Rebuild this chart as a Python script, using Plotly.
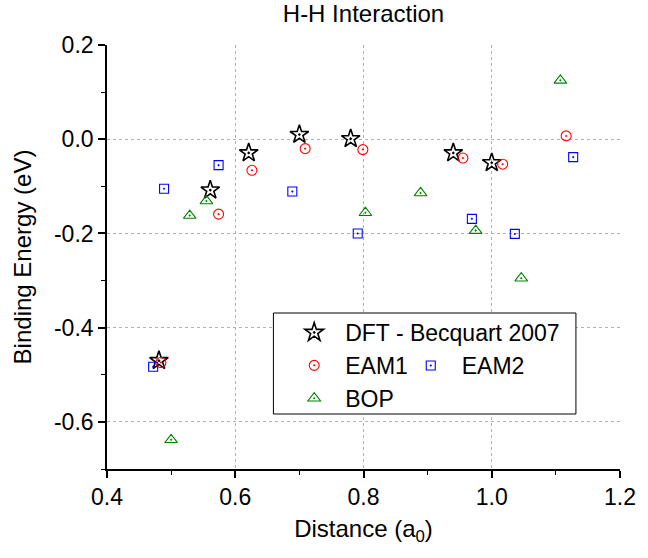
import plotly.graph_objects as go

# H-H pair binding energies vs. separation distance
dft_x = [0.481, 0.561, 0.621, 0.700, 0.780, 0.940, 1.000]
dft_y = [-0.470, -0.108, -0.029, 0.010, 0.001, -0.029, -0.050]

eam1_x = [0.484, 0.574, 0.626, 0.709, 0.799, 0.955, 1.017, 1.116]
eam1_y = [-0.474, -0.159, -0.066, -0.020, -0.022, -0.040, -0.053, 0.007]

eam2_x = [0.472, 0.489, 0.574, 0.689, 0.791, 0.969, 1.036, 1.127]
eam2_y = [-0.483, -0.105, -0.055, -0.111, -0.200, -0.169, -0.201, -0.038]

bop_x = [0.500, 0.529, 0.555, 0.803, 0.889, 0.975, 1.046, 1.107]
bop_y = [-0.638, -0.162, -0.131, -0.156, -0.114, -0.194, -0.295, 0.125]

x_ticks = [0.4, 0.6, 0.8, 1.0, 1.2]
x_tick_labels = ["0.4", "0.6", "0.8", "1.0", "1.2"]
y_ticks = [-0.6, -0.4, -0.2, 0.0, 0.2]
y_tick_labels = ["-0.6", "-0.4", "-0.2", "0.0", "0.2"]

FONT = "Liberation Sans, Arial, Helvetica, sans-serif"

fig = go.Figure()
fig.add_trace(go.Scatter(
    x=dft_x, y=dft_y, mode="markers", name="DFT - Becquart 2007",
    marker=dict(symbol="star-open-dot", size=14, color="black",
                line=dict(width=1.6, color="black")),
))
fig.add_trace(go.Scatter(
    x=eam1_x, y=eam1_y, mode="markers", name="EAM1",
    marker=dict(symbol="circle-open-dot", size=10, color="#ff0000",
                line=dict(width=1.1, color="#ff0000")),
))
fig.add_trace(go.Scatter(
    x=eam2_x, y=eam2_y, mode="markers", name="EAM2", legend="legend2",
    marker=dict(symbol="square-open-dot", size=9, color="#0000ff",
                line=dict(width=1.1, color="#0000ff")),
))
fig.add_trace(go.Scatter(
    x=bop_x, y=bop_y, mode="markers", name="BOP",
    marker=dict(symbol="triangle-up-open-dot", size=11, color="#008000",
                line=dict(width=1.1, color="#008000")),
))

axis_common = dict(
    showline=True, linecolor="black", linewidth=1.6,
    zeroline=False, color="black",
)

# legend frame (both legends sit inside it)
fig.add_shape(
    type="rect", xref="paper", yref="paper",
    x0=0.3244, x1=0.9141, y0=0.1297, y1=0.3679,
    line=dict(color="black", width=1), fillcolor="white", layer="above",
)

fig.update_layout(
    width=648, height=558,
    margin=dict(l=107, r=17, t=45, b=89),
    paper_bgcolor="white", plot_bgcolor="white",
    font=dict(family=FONT, size=23, color="black"),
    title=dict(text="H-H Interaction", x=0.5, xref="paper", xanchor="center",
               y=1, yref="container", yanchor="top", pad=dict(t=5),
               font=dict(size=24)),
    xaxis=dict(
        range=[0.4, 1.2], tickvals=x_ticks, ticktext=x_tick_labels,
        ticks="outside", ticklen=7, tickwidth=1.6, tickcolor="black",
        minor=dict(dtick=0.1, ticks="outside", ticklen=4, tickwidth=1.4,
                   tickcolor="black", showgrid=False),
        showgrid=True, gridcolor="#b0b0b0", griddash="dot", gridwidth=1,
        title=dict(text="Distance (a<sub>0</sub>)", standoff=11,
                   font=dict(size=24)),
        **axis_common,
    ),
    yaxis=dict(
        range=[-0.7, 0.2], tickvals=y_ticks, ticktext=y_tick_labels,
        ticks="outside", ticklen=7, tickwidth=1.6, tickcolor="black",
        minor=dict(dtick=0.1, tick0=0, ticks="outside", ticklen=4, tickwidth=1.4,
                   tickcolor="black", showgrid=False),
        showgrid=True, gridcolor="#b0b0b0", griddash="dot", gridwidth=1,
        title=dict(text="Binding Energy (eV)", standoff=16,
                   font=dict(size=24)),
        **axis_common,
    ),
    # mirrored frame with inward ticks on top and right
    xaxis2=dict(
        range=[0.4, 1.2], overlaying="x", side="top", anchor="y",
        tickvals=x_ticks, showticklabels=False,
        ticks="inside", ticklen=7, tickwidth=1.6, tickcolor="black",
        minor=dict(dtick=0.1, ticks="inside", ticklen=4, tickwidth=1.4,
                   tickcolor="black", showgrid=False),
        showgrid=False, **axis_common,
    ),
    yaxis2=dict(
        range=[-0.7, 0.2], overlaying="y", side="right", anchor="x",
        tickvals=y_ticks, showticklabels=False,
        ticks="inside", ticklen=7, tickwidth=1.6, tickcolor="black",
        minor=dict(dtick=0.1, tick0=0, ticks="inside", ticklen=4, tickwidth=1.4,
                   tickcolor="black", showgrid=False),
        showgrid=False, **axis_common,
    ),
    legend=dict(
        x=0.3435, y=0.3727, xanchor="left", yanchor="top",
        borderwidth=0, bgcolor="rgba(0,0,0,0)",
        font=dict(size=23), itemwidth=52,
        traceorder="normal", tracegroupgap=0,
    ),
    legend2=dict(
        x=0.5707, y=0.2947, xanchor="left", yanchor="top",
        borderwidth=0, bgcolor="rgba(0,0,0,0)",
        font=dict(size=23), itemwidth=52,
    ),
    showlegend=True,
)

fig.write_html("out.html")
